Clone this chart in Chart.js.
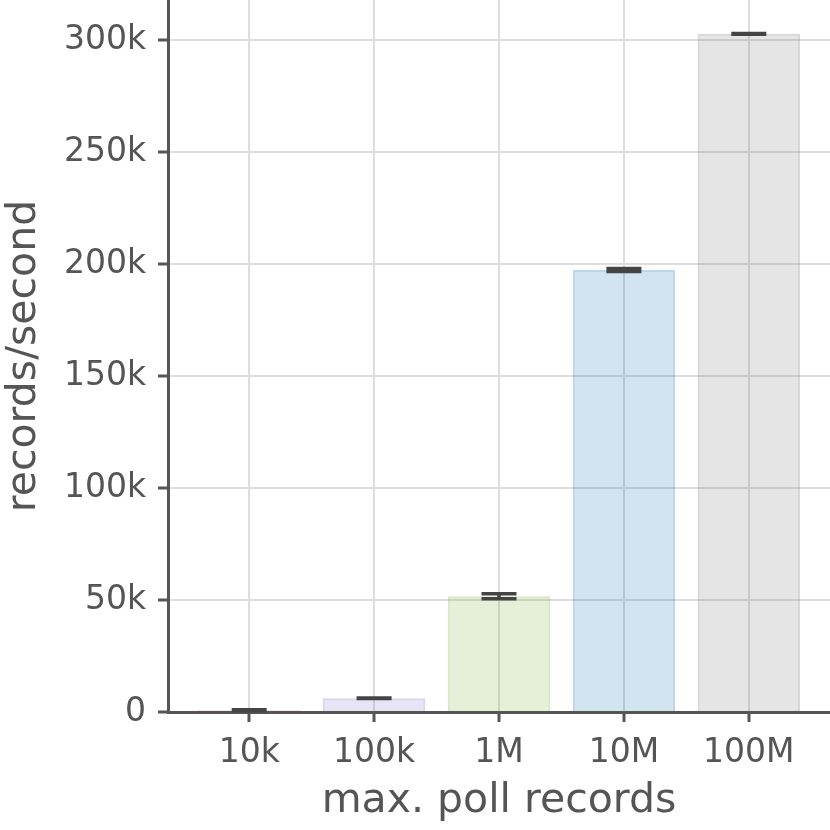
<!DOCTYPE html>
<html>
<head>
<meta charset="utf-8">
<script src="https://cdn.jsdelivr.net/npm/chart.js@4/dist/chart.umd.min.js"></script>
<style>
  html, body { margin: 0; padding: 0; background: #fff; }
  #wrap { width: 830px; height: 830px; }
</style>
</head>
<body>
<div id="wrap"><canvas id="poll"></canvas></div>
<script>
// data
var categories = ['10k', '100k', '1M', '10M', '100M'];
var throughput = [800, 6100, 51700, 197400, 302900];
var spread = [200, 100, 1100, 700, 150];
var yTicks = [0, 50000, 100000, 150000, 200000, 250000, 300000];

var baseColors = [
    [214, 39, 40],
    [130, 120, 205],
    [130, 180, 60],
    [31, 119, 180],
    [127, 127, 127]
];

function rgba(c, a) {
    return 'rgba(' + c[0] + ',' + c[1] + ',' + c[2] + ',' + a + ')';
}

var points = throughput.map(function (v, i) { return { x: i, y: v }; });

var font = "'DejaVu Sans', sans-serif";
var ink = '#555555';

// error bars, drawn from the data through the scales
var errorBars = {
    id: 'errorBars',
    afterDatasetsDraw: function (chart) {
        var ctx = chart.ctx;
        var xs = chart.scales.x, ys = chart.scales.y;
        ctx.save();
        ctx.strokeStyle = '#444444';
        ctx.lineWidth = 3.5;
        for (var i = 0; i < throughput.length; i++) {
            var px = xs.getPixelForValue(i);
            var lo = ys.getPixelForValue(throughput[i] - spread[i]);
            var hi = ys.getPixelForValue(throughput[i] + spread[i]);
            ctx.beginPath();
            ctx.moveTo(px, lo); ctx.lineTo(px, hi);
            ctx.moveTo(px - 17.5, lo); ctx.lineTo(px + 17.5, lo);
            ctx.moveTo(px - 17.5, hi); ctx.lineTo(px + 17.5, hi);
            ctx.stroke();
        }
        ctx.restore();
    }
};

var ctx1 = document.getElementById('poll').getContext('2d');

var pollChart = new Chart(ctx1, {
    type: 'bar',
    data: {
        datasets: [{
            data: points,
            backgroundColor: baseColors.map(function (c) { return rgba(c, 0.2); }),
            borderColor: baseColors.map(function (c) { return rgba(c, 0.3); }),
            borderWidth: 2,
            barPercentage: 0.82,
            categoryPercentage: 1.0
        }]
    },
    options: {
        responsive: true,
        maintainAspectRatio: false,
        animation: false,
        layout: { padding: 0 },
        plugins: { legend: { display: false }, tooltip: { enabled: false } },
        scales: {
            x: {
                type: 'linear',
                offset: false,
                min: -0.65,
                max: 4.65,
                afterFit: function (scale) {
                    scale.height = 118;
                    scale.paddingLeft = 0;
                    scale.paddingRight = 0;
                },
                afterBuildTicks: function (scale) {
                    scale.ticks = categories.map(function (c, i) { return { value: i }; });
                },
                ticks: {
                    callback: function (v) { return categories[v]; },
                    font: { family: font, size: 33 },
                    color: ink,
                    padding: 12,
                    maxRotation: 0,
                    autoSkip: false
                },
                grid: {
                    offset: false,
                    color: '#dddddd',
                    lineWidth: 2,
                    tickLength: 10,
                    tickColor: ink,
                    tickWidth: 3
                },
                border: { color: ink, width: 3 },
                title: {
                    display: true,
                    text: 'max. poll records',
                    font: { family: font, size: 41 },
                    color: ink,
                    padding: { top: 0, bottom: 4 }
                }
            },
            y: {
                min: 0,
                max: 318000,
                afterFit: function (scale) {
                    scale.width = 168;
                    scale.paddingTop = 0;
                    scale.paddingBottom = 0;
                },
                afterBuildTicks: function (scale) {
                    scale.ticks = yTicks.map(function (v) { return { value: v }; });
                },
                ticks: {
                    callback: function (v) { return v === 0 ? '0' : (v / 1000) + 'k'; },
                    font: { family: font, size: 33 },
                    color: ink,
                    padding: 12
                },
                grid: {
                    color: '#dddddd',
                    lineWidth: 2,
                    tickLength: 10,
                    tickColor: ink,
                    tickWidth: 3
                },
                border: { color: ink, width: 3 },
                title: {
                    display: true,
                    text: 'records/second',
                    font: { family: font, size: 41 },
                    color: ink,
                    padding: { top: 0, bottom: 0 }
                }
            }
        }
    },
    plugins: [errorBars]
});
</script>
</body>
</html>
